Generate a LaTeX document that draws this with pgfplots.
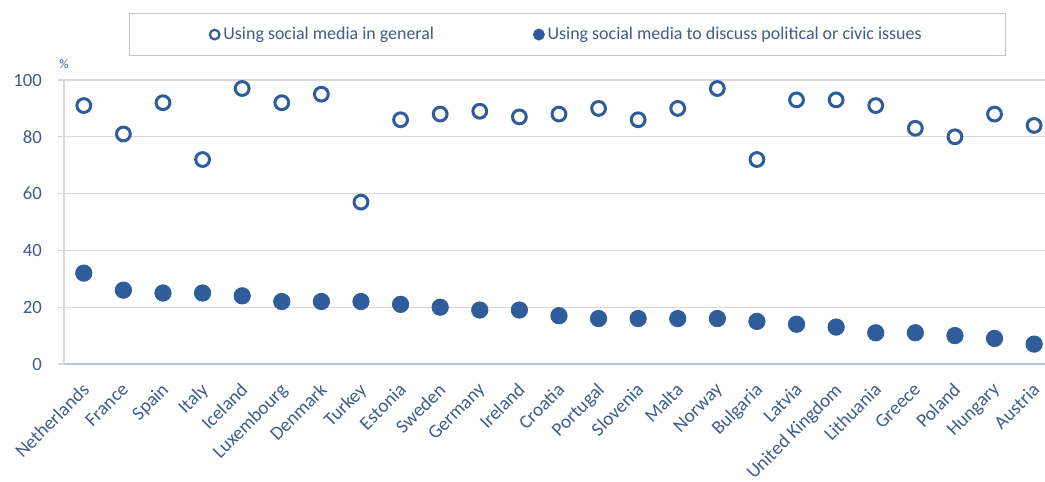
\documentclass[border=0pt]{standalone}
\usepackage{fontspec}
\setmainfont{Carlito}
\usepackage{pgfplots}
\pgfplotsset{compat=1.18}
\definecolor{mk}{RGB}{47,92,155}
\definecolor{tx}{RGB}{62,92,140}
\definecolor{gr}{RGB}{217,217,217}
\definecolor{ax}{RGB}{190,196,210}
\begin{document}
\begin{tikzpicture}
\useasboundingbox (-32bp,-59bp) rectangle (490.5bp,182bp);
\begin{axis}[
  at={(0,0)}, anchor=south west,
  scale only axis, width=491bp, height=142bp,
  xmin=-0.5, xmax=24.3, ymin=0, ymax=100,
  axis x line*=bottom, axis y line*=left,
  x axis line style={draw=ax, line width=0.8pt},
  y axis line style={draw=gr, line width=0.6pt},
  ytick={0,20,...,100},
  ymajorgrids, major grid style={draw=gr, line width=0.7pt},
  y tick style={draw=gr, line width=0.7pt},
  major tick length=3bp, tick align=outside,
  xtick={0,...,24},
  x tick style={draw=none},
  xticklabels={Netherlands,France,Spain,Italy,Iceland,Luxembourg,Denmark,Turkey,Estonia,Sweden,Germany,Ireland,Croatia,Portugal,Slovenia,Malta,Norway,Bulgaria,Latvia,United Kingdom,Lithuania,Greece,Poland,Hungary,Austria},
  extra x ticks={-0.5,0.5,...,23.5},
  extra x tick labels={},
  extra x tick style={grid=none, major tick length=4bp, tick style={draw=ax, line width=0.6pt}},
  xticklabel style={rotate=45, anchor=north east, inner sep=1pt, yshift=-2bp, xshift=-4bp, font=\fontsize{9.6}{10}\selectfont},
  ticklabel style={text=tx},
  yticklabel style={xshift=-4.5bp, font=\fontsize{9.4}{11}\selectfont},
  /pgf/number format/assume math mode=true,
  legend columns=2,
  legend style={at={(axis description cs:0.513,1.16)}, anchor=center,
    draw=ax, line width=0.6pt, font=\fontsize{9}{10}\selectfont, text=tx,
    inner xsep=40bp, inner ysep=4.5bp,
    /tikz/every even column/.append style={column sep=48bp}},
  legend image code/.code={\draw[#1, mark size=2.4bp, every mark/.append style={line width=1.1bp}] plot coordinates {(6bp,0bp)};},
  clip=false,
]
\addplot[only marks, mark=*, mark size=3.45bp, mark options={draw=mk, fill=white, line width=1.5bp}] coordinates {
(0,91) (1,81) (2,92) (3,72) (4,97) (5,92) (6,95) (7,57) (8,86) (9,88) (10,89) (11,87) (12,88) (13,90) (14,86) (15,90) (16,97) (17,72) (18,93) (19,93) (20,91) (21,83) (22,80) (23,88) (24,84)};
\addlegendentry{Using social media in general}
\addplot[only marks, mark=*, mark size=4.1bp, mark options={draw=mk, fill=mk}] coordinates {
(0,32) (1,26) (2,25) (3,25) (4,24) (5,22) (6,22) (7,22) (8,21) (9,20) (10,19) (11,19) (12,17) (13,16) (14,16) (15,16) (16,16) (17,15) (18,14) (19,13) (20,11) (21,11) (22,10) (23,9) (24,7)};
\addlegendentry{Using social media to discuss political or civic issues}
\node[font=\fontsize{6.5}{7}\selectfont, text=tx, anchor=center] at (axis description cs:0,1.056) {\%};
\end{axis}
\end{tikzpicture}
\end{document}
